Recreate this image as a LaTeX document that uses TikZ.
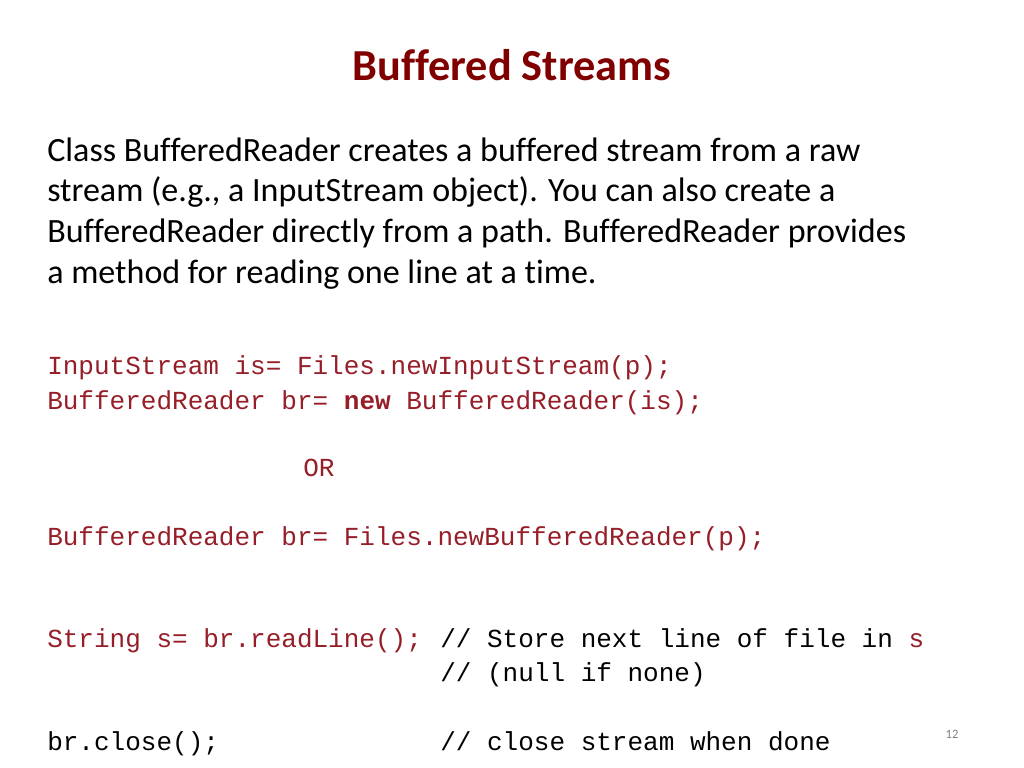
\documentclass[tikz,border=0pt]{standalone}
\usepackage{fontspec}
\setmainfont[Ligatures=NoCommon]{Carlito}
\setmonofont{Liberation Mono}
\definecolor{titlered}{RGB}{128,0,0}
\definecolor{codered}{RGB}{150,30,40}
\begin{document}
\begin{tikzpicture}[x=0.025cm,y=-0.025cm,
    body_style/.style={anchor=base west, inner sep=0pt, font=\fontsize{24.2}{28}\selectfont},
    code_style/.style={anchor=base west, inner sep=0pt, font=\ttfamily\fontsize{18.5}{22}\selectfont, text=codered},
    note_style/.style={anchor=base west, inner sep=0pt, font=\ttfamily\fontsize{18.5}{22}\selectfont, text=black}]
  \useasboundingbox (0,0) rectangle (1024,768);
  \node[anchor=base, inner sep=0pt, font=\bfseries\fontsize{31.5}{36}\selectfont, text=titlered] (title) at (512,81) {Buffered Streams};
  \node[body_style] (line_a) at (47,161) {Class BufferedReader creates a buffered stream from a raw};
  \node[body_style] (line_b) at (47,201) {stream (e.g., a InputStream object). You can also create a};
  \node[body_style] (line_c) at (47,242) {BufferedReader directly from a path. BufferedReader provides};
  \node[body_style] (line_d) at (47,283) {a method for reading one line at a time.};
  \node[code_style] (code_a) at (47,374) {InputStream is= Files.newInputStream(p);};
  \node[code_style] (code_b) at (47,409) {BufferedReader br= \textbf{new} BufferedReader(is);};
  \node[code_style] (code_or) at (303,476) {OR};
  \node[code_style] (code_c) at (47,545) {BufferedReader br= Files.newBufferedReader(p);};
  \node[code_style] (code_d) at (47,647) {String s= br.readLine();};
  \node[note_style] (note_a) at (440,647) {// Store next line of file in \textcolor{codered}{s}};
  \node[note_style] (note_b) at (440,681) {// (null if none)};
  \node[note_style] (code_e) at (47,750) {br.close();};
  \node[note_style] (note_c) at (440,750) {// close stream when done};
  \node[anchor=base, inner sep=0pt, font=\fontsize{9}{10}\selectfont, text=gray] (page) at (952,738) {12};
\end{tikzpicture}
\end{document}
